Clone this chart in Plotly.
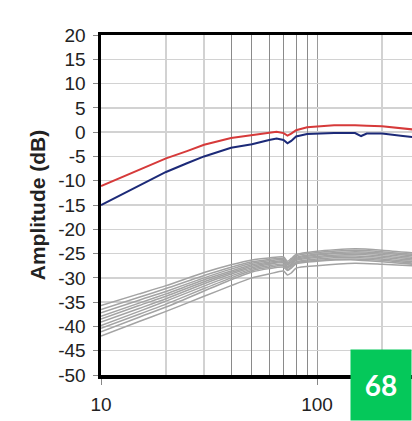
import plotly.graph_objects as go

# Frequencies (Hz)
freq_main = [10, 12, 15, 20, 25, 30, 40, 50, 60, 65, 70, 73, 76, 80, 90, 100, 120, 150, 160, 170, 200, 250, 300]
red_vals = [-11.1, -9.6, -7.8, -5.4, -3.9, -2.6, -1.2, -0.6, -0.1, 0.1, -0.2, -0.7, -0.3, 0.4, 1.0, 1.2, 1.4, 1.4, 1.4, 1.3, 1.2, 0.8, 0.4]
blue_vals = [-15.0, -13.2, -11.0, -8.2, -6.4, -5.0, -3.2, -2.5, -1.6, -1.3, -1.6, -2.3, -1.8, -0.9, -0.4, -0.3, -0.2, -0.2, -0.8, -0.3, -0.3, -0.8, -1.2]

freq_grey = [10, 15, 20, 30, 40, 50, 60, 70, 73, 76, 80, 100, 150, 200, 300]
g1 = [-35.7, -33.3, -31.6, -28.9, -27.3, -26.3, -25.9, -25.7, -26.6, -26.0, -25.2, -24.5, -24.0, -24.3, -25.0]
g2 = [-36.5, -34.0, -32.2, -29.5, -27.8, -26.7, -26.2, -26.0, -26.9, -26.3, -25.5, -24.8, -24.3, -24.6, -25.3]
g3 = [-37.2, -34.6, -32.8, -30.0, -28.2, -27.0, -26.5, -26.2, -27.1, -26.6, -25.8, -25.1, -24.6, -24.9, -25.6]
g4 = [-37.9, -35.2, -33.3, -30.4, -28.6, -27.3, -26.8, -26.5, -27.3, -26.8, -26.0, -25.3, -24.9, -25.2, -25.9]
g5 = [-38.5, -35.7, -33.8, -30.8, -28.9, -27.6, -27.0, -26.7, -27.6, -27.1, -26.2, -25.6, -25.2, -25.5, -26.2]
g6 = [-39.1, -36.3, -34.3, -31.2, -29.2, -27.9, -27.2, -26.9, -27.8, -27.3, -26.4, -25.8, -25.5, -25.8, -26.5]
g7 = [-39.8, -36.9, -34.8, -31.7, -29.6, -28.2, -27.5, -27.2, -28.0, -27.5, -26.7, -26.1, -25.8, -26.1, -26.8]
g8 = [-40.4, -37.5, -35.4, -32.2, -30.0, -28.5, -27.8, -27.5, -28.3, -27.8, -26.9, -26.4, -26.1, -26.4, -27.1]
g9 = [-41.1, -38.1, -36.0, -32.7, -30.4, -28.8, -28.1, -27.8, -28.5, -28.0, -27.1, -26.6, -26.3, -26.7, -27.3]
g10 = [-42.0, -39.0, -36.9, -33.8, -31.6, -30.0, -29.2, -28.6, -29.4, -29.0, -28.0, -27.5, -27.0, -27.2, -27.6]
grey_series = [g1, g2, g3, g4, g5, g6, g7, g8, g9, g10]

x_tickvals = [10, 100, 1000]
x_ticktext = ["10", "100", "1000"]
x_minor_light = [20, 30, 200, 300]
x_dark_grid = [40, 50, 60, 70, 80, 90]
y_tickvals = [-50, -45, -40, -35, -30, -25, -20, -15, -10, -5, 0, 5, 10, 15, 20]
y_ticktext = ["-50", "-45", "-40", "-35", "-30", "-25", "-20", "-15", "-10", "-5", "0", "5", "10", "15", "20"]
badge_text = "68"

FONT = "Arial, Liberation Sans, sans-serif"

fig = go.Figure()
for g in grey_series:
    fig.add_trace(go.Scatter(x=freq_grey, y=g, mode="lines", line_shape="spline",
                             line=dict(color="#a3a3a3", width=1.5, smoothing=0.6),
                             showlegend=False, hoverinfo="skip"))
fig.add_trace(go.Scatter(x=freq_main, y=red_vals, mode="lines",
                         line=dict(color="#d63a3a", width=2), showlegend=False))
fig.add_trace(go.Scatter(x=freq_main, y=blue_vals, mode="lines",
                         line=dict(color="#1c2a78", width=2), showlegend=False))
# invisible trace to activate overlay axis for darker grid lines
fig.add_trace(go.Scatter(x=[10], y=[0], xaxis="x2", mode="markers",
                         marker=dict(opacity=0), showlegend=False, hoverinfo="skip"))

xr = [1, 1 + 311 / 216]
fig.update_layout(
    width=412, height=421,
    margin=dict(l=101, r=0, t=35, b=46),
    paper_bgcolor="white", plot_bgcolor="white",
    font=dict(family=FONT, color="#222222"),
    hovermode=False,
    xaxis=dict(type="log", range=xr, tickvals=x_tickvals, ticktext=x_ticktext,
               tickfont=dict(size=19, color="#222222"),
               showgrid=True, gridcolor="#9a9a9a", gridwidth=1,
               minor=dict(tickvals=x_minor_light, showgrid=True, gridcolor="#d2d2d2", gridwidth=1.5, ticks=""),
               showline=True, linecolor="black", linewidth=3.5, mirror=True,
               ticks="outside", ticklen=6, tickcolor="#888888", tickwidth=1,
               ticklabelstandoff=4, zeroline=False, fixedrange=True),
    xaxis2=dict(type="log", range=xr, overlaying="x", anchor="y", tickvals=x_dark_grid,
                showticklabels=False, ticks="", showgrid=True, gridcolor="#8a8a8a", gridwidth=1,
                showline=False, zeroline=False),
    yaxis=dict(range=[-50, 20], tickvals=y_tickvals, ticktext=y_ticktext,
               tickfont=dict(size=19, color="#222222"),
               showgrid=True, gridcolor="#d2d2d2", gridwidth=1.5,
               showline=True, linecolor="black", linewidth=3.5, mirror=False,
               ticks="outside", ticklen=5, tickcolor="#888888", tickwidth=1,
               ticklabelstandoff=3, zeroline=False,
               title=dict(text="<b>Amplitude (dB)</b>", font=dict(size=21, color="#222222"), standoff=8)),
    annotations=[dict(text="<b>" + badge_text + "</b>", xref="paper", yref="paper",
                      x=1.0, y=-46 / 340, xanchor="right", yanchor="bottom",
                      showarrow=False, bgcolor="#05c85a", width=52, height=62,
                      font=dict(family="Lato, Open Sans, sans-serif", size=28, color="white"),
                      borderpad=4)],
)

fig.write_html("out.html", config={"displayModeBar": False, "staticPlot": True},
               post_script="document.body.style.margin='0';document.body.style.overflow='hidden';")
